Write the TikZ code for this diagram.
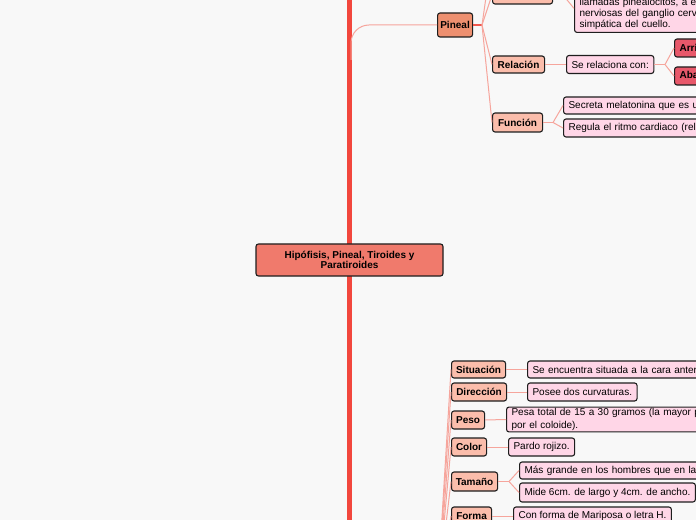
\documentclass[tikz,border=0pt]{standalone}
\usepackage{fontspec}
\setmainfont{Liberation Sans}
\definecolor{bgc}{HTML}{F8F8F8}
\definecolor{trunkc}{HTML}{F2473D}
\definecolor{branchc}{HTML}{F6A59C}
\definecolor{forkc}{HTML}{F0564C}
\definecolor{centralc}{HTML}{F07A6C}
\definecolor{pinealc}{HTML}{EE9070}
\definecolor{lvlc}{HTML}{FBBDAB}
\definecolor{txtc}{HTML}{FFD6E7}
\definecolor{redc}{HTML}{E8586A}
\definecolor{edgec}{HTML}{1E1E1E}
\begin{document}
\begin{tikzpicture}[x=1bp,y=-1bp,
  box/.style={draw=edgec, line width=1.1bp, rounded corners=2.5bp, inner xsep=5bp, inner ysep=0pt, anchor=west, minimum height=18bp, font=\fontsize{10bp}{11bp}\selectfont},
  lab/.style={box, fill=lvlc, inner xsep=2bp, font=\fontsize{10bp}{11bp}\selectfont\bfseries},
  txt/.style={box, fill=txtc, align=left},
  wtxt/.style={txt, text width=320bp},
  trunk/.style={draw=trunkc, line width=5bp},
  branch/.style={draw=branchc, line width=1bp},
  forkl/.style={draw=forkc, line width=1.4bp}]
\useasboundingbox (0,0) rectangle (696,520);
\fill[bgc] (0,0) rectangle (696,520);
\clip (0,0) rectangle (696,520);

% trunk
\coordinate (trunkTop) at (349.5,-20);
\coordinate (trunkBot) at (349.5,540);
\coordinate (trunkA) at (351,60);
\draw[trunk] (trunkTop) -- (trunkBot);

% central node
\node[box, anchor=center, fill=centralc, minimum width=187bp, minimum height=32bp, align=center,
  font=\fontsize{10bp}{10.5bp}\selectfont\bfseries] (central) at (349.5,260)
  {Hipófisis, Pineal, Tiroides y\\Paratiroides};

% ---------- Pineal branch ----------
\node[lab, fill=pinealc, minimum width=35bp, minimum height=24bp] (pineal) at (437,25) {Pineal};
\draw[branch, rounded corners=18bp] (trunkA) -- (trunkA |- pineal.west) -- (pineal.west);

\coordinate (pfork) at (482,25);
\draw[forkl] (pineal.east) -- (pfork);

\node[lab, minimum width=60bp] (top) at (492,-5) {};
\coordinate (above) at (492,-45);
\node[lab, minimum width=52bp, minimum height=17bp] (rel) at (492,64.5) {Relación};
\node[lab, minimum width=50bp, minimum height=19bp] (fun) at (492,122.5) {Función};
\draw[branch] (pfork) -- (top.west);
\draw[branch] (pfork) -- (above);
\draw[branch] (pfork) -- (rel.west);
\draw[branch] (pfork) -- (fun.west);

% big text box
\node[txt, anchor=south west, text width=330bp, inner ysep=3bp,
  font=\fontsize{10bp}{10.9bp}\selectfont] (big) at (574,33)
  {Está formada por células neuroglías y células\\
   llamadas pinealocitos, a esta glándula llegan fibras\\
   nerviosas del ganglio cervical superior de la cadena\\
   simpática del cuello.};
\coordinate (tfork) at (563,-5);
\draw[branch] (top.east) -- (tfork) -- (big.west);

% Relación
\node[txt] (relt) at (566,64.5) {Se relaciona con:};
\draw[branch] (rel.east) -- (relt.west);
\coordinate (rfork) at (665,64.5);
\node[lab, fill=redc, text width=60bp, align=left, inner xsep=5bp] (arr) at (674,48) {Arriba};
\node[lab, fill=redc, text width=60bp, align=left, inner xsep=5bp] (aba) at (674,76) {Abajo};
\draw[branch] (relt.east) -- (rfork);
\draw[branch] (rfork) -- (arr.west);
\draw[branch] (rfork) -- (aba.west);

% Función
\coordinate (ffork) at (553,122.5);
\node[wtxt, minimum height=17bp] (sec) at (563,105.5) {Secreta melatonina que es una hormona};
\node[wtxt] (reg) at (563,128) {Regula el ritmo cardiaco (reloj biológico)};
\draw[branch] (fun.east) -- (ffork);
\draw[branch] (ffork) -- (sec.west);
\draw[branch] (ffork) -- (reg.west);

% ---------- Bottom branch ----------
\coordinate (tiro) at (437,600);
\node[lab, minimum width=54bp, minimum height=17bp] (sit) at (451,369.5) {Situación};
\node[lab, minimum width=55bp] (dir) at (451,392) {Dirección};
\node[lab, minimum width=33bp] (peso) at (451,420) {Peso};
\node[lab, minimum width=35bp] (col) at (451,447) {Color};
\node[lab, minimum width=46bp, minimum height=19bp] (tam) at (451,481.5) {Tamaño};
\node[lab, minimum width=40bp] (for) at (451,516) {Forma};
\foreach \n in {sit,dir,peso,col,tam,for} \draw[branch] (tiro) -- (\n.west);

\node[wtxt, minimum height=17bp] (sitt) at (527,369.5) {Se encuentra situada a la cara anterior del cuello};
\node[txt] (dirt) at (527,392) {Posee dos curvaturas.};
\node[txt, text width=320bp, inner ysep=1.5bp, font=\fontsize{10bp}{12.5bp}\selectfont] (pesot) at (506,419.5)
  {Pesa total de 15 a 30 gramos (la mayor parte formada\\por el coloide).};
\node[txt] (colt) at (508,447) {Pardo rojizo.};
\node[wtxt, minimum height=17bp] (tam1) at (519,470.5) {Más grande en los hombres que en las mujeres};
\node[txt, minimum height=19bp] (tam2) at (519,492.5) {Mide 6cm. de largo y 4cm. de ancho.};
\node[txt] (fort) at (513,516) {Con forma de Mariposa o letra H.};
\coordinate (tamfork) at (509,481.5);

\draw[branch] (sit.east) -- (sitt.west);
\draw[branch] (dir.east) -- (dirt.west);
\draw[branch] (peso.east) -- (pesot.west);
\draw[branch] (col.east) -- (colt.west);
\draw[branch] (tam.east) -- (tamfork);
\draw[branch] (tamfork) -- (tam1.west);
\draw[branch] (tamfork) -- (tam2.west);
\draw[branch] (for.east) -- (fort.west);
\end{tikzpicture}
\end{document}
